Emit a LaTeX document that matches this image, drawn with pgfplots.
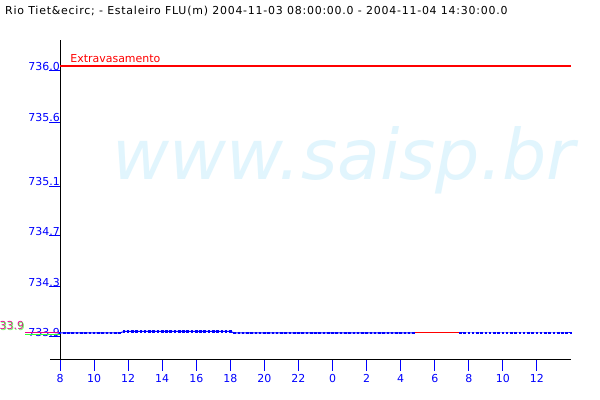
\documentclass[border=0pt]{standalone}
\usepackage{fontspec}
\setmainfont{DejaVu Sans}
\newfontfamily\titlefont[LetterSpace=7]{DejaVu Sans}
\usepackage{pgfplots}
\pgfplotsset{compat=1.18}
\definecolor{wm}{HTML}{E1F5FD}
\definecolor{grn}{HTML}{33FF33}
\begin{document}
\begin{tikzpicture}
\useasboundingbox (0,0) rectangle (600bp,400bp);
\fill[white] (0,0) rectangle (600bp,400bp);
\node[anchor=base west, inner sep=0pt, text=wm, font=\fontsize{70}{70}\selectfont\itshape] at (112bp,220bp) {www.saisp.br};
\node[anchor=base west, inner sep=0pt, font=\titlefont\fontsize{11}{11}\selectfont] at (5bp,385bp) {Rio Tiet\&ecirc; - Estaleiro FLU(m) 2004-11-03 08:00:00.0 - 2004-11-04 14:30:00.0};
\begin{axis}[
  scale only axis, width=511bp, height=320bp,
  at={(60bp,40bp)}, anchor=south west,
  xmin=8, xmax=38, ymin=733.6876, ymax=736.2045,
  clip=false,
  axis lines*=left,
  axis line style={black, line width=1bp},
  tick align=outside, major tick length=11bp,
  tick style={blue, line width=1bp},
  xtick={8,10,...,36},
  xticklabels={8,10,12,14,16,18,20,22,0,2,4,6,8,10,12},
  ytick={735.963,735.557,735.056,734.663,734.264,733.871},
  yticklabels={736.0,735.6,735.1,734.7,734.3,733.9},
  xticklabel style={text=blue, font=\fontsize{11}{11}\selectfont},
  yticklabel style={text=blue, font=\fontsize{11}{11}\selectfont, anchor=south east, inner sep=0pt, xshift=11bp},
  scaled y ticks=false,
  /pgf/number format/assume math mode=true,
]
\addplot[draw=red, color=red, line width=1.2bp] coordinates {(8,736.0) (38,736.0)};
\node[anchor=base west, inner sep=0pt, text=red, font=\fontsize{11}{11}\selectfont] at (axis cs:8.6,736.03) {Extravasamento};
\addplot[draw=red, line width=1bp] coordinates {(28.75,733.9) (31.5,733.9)};
\addplot[blue, line width=1bp, mark=square*, mark size=0.8bp] coordinates {
(8,733.9)(8.25,733.9)(8.5,733.9)(8.75,733.9)(9,733.9)(9.25,733.9)(9.5,733.9)(9.75,733.9)
(10,733.9)(10.25,733.9)(10.5,733.9)(10.75,733.9)(11,733.9)(11.25,733.9)(11.5,733.9)
(11.75,733.912)(12,733.912)(12.25,733.912)(12.5,733.912)(12.75,733.912)(13,733.912)(13.25,733.912)(13.5,733.912)
(13.75,733.912)(14,733.912)(14.25,733.912)(14.5,733.912)(14.75,733.912)(15,733.912)(15.25,733.912)(15.5,733.912)
(15.75,733.912)(16,733.912)(16.25,733.912)(16.5,733.912)(16.75,733.912)(17,733.912)(17.25,733.912)(17.5,733.912)
(17.75,733.912)(18,733.912)
(18.25,733.9)(18.5,733.9)(18.75,733.9)(19,733.9)(19.25,733.9)(19.5,733.9)(19.75,733.9)(20,733.9)
(20.25,733.9)(20.5,733.9)(20.75,733.9)(21,733.9)(21.25,733.9)(21.5,733.9)(21.75,733.9)(22,733.9)
(22.25,733.9)(22.5,733.9)(22.75,733.9)(23,733.9)(23.25,733.9)(23.5,733.9)(23.75,733.9)(24,733.9)
(24.25,733.9)(24.5,733.9)(24.75,733.9)(25,733.9)(25.25,733.9)(25.5,733.9)(25.75,733.9)(26,733.9)
(26.25,733.9)(26.5,733.9)(26.75,733.9)(27,733.9)(27.25,733.9)(27.5,733.9)(27.75,733.9)(28,733.9)
(28.25,733.9)(28.5,733.9)(28.75,733.9)
};
\addplot[blue, line width=1bp, mark=square*, mark size=0.8bp] coordinates {
(31.5,733.9)(31.75,733.9)(32,733.9)(32.25,733.9)(32.5,733.9)(32.75,733.9)(33,733.9)(33.25,733.9)
(33.5,733.9)(33.75,733.9)(34,733.9)(34.25,733.9)(34.5,733.9)(34.75,733.9)(35,733.9)(35.25,733.9)
(35.5,733.9)(35.75,733.9)(36,733.9)(36.25,733.9)(36.5,733.9)(36.75,733.9)(37,733.9)(37.25,733.9)
(37.5,733.9)(37.75,733.9)(38,733.9)
};
\draw[black, line width=1bp] (axis cs:7.413,733.6876) -- (axis cs:8,733.6876);
\draw[grn, line width=1bp] (axis cs:5.945,733.889) -- (axis cs:8,733.889);
\draw[magenta, line width=1bp] (axis cs:5.945,733.902) -- (axis cs:8,733.902);
\node[anchor=base east, inner sep=0pt, text=magenta, font=\fontsize{11}{11}\selectfont] at (axis cs:5.9,733.925) {733.9};
\node[anchor=base east, inner sep=0pt, text=grn, font=\fontsize{11}{11}\selectfont, opacity=0.7] at (axis cs:5.945,733.92) {733.9};
\end{axis}
\end{tikzpicture}
\end{document}
